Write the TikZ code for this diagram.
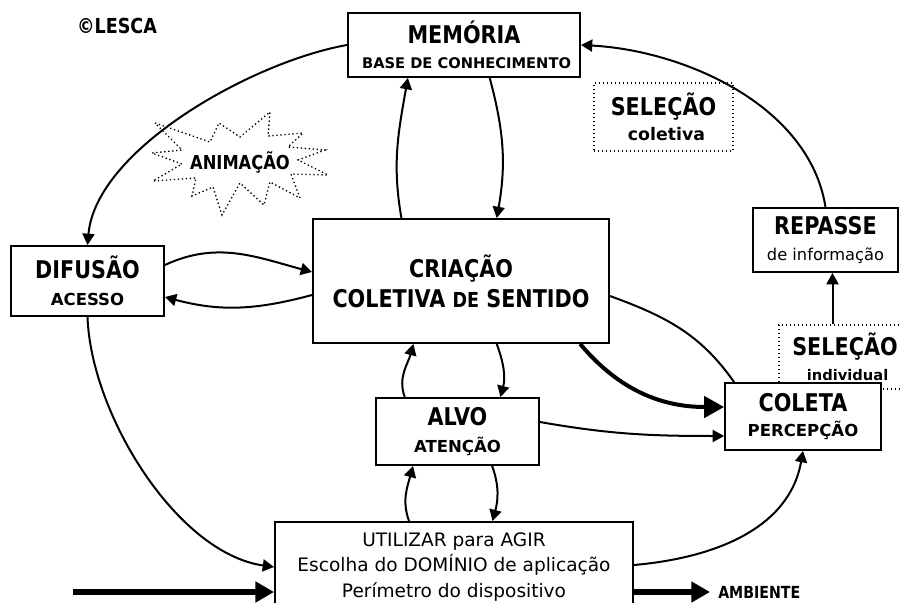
\documentclass[tikz,border=0pt]{standalone}
\usepackage{fontspec}
\setmainfont{DejaVu Sans}
\newfontfamily\estreita[FakeStretch=0.85]{DejaVu Sans}
\usetikzlibrary{arrows.meta,calc,positioning}

\newcommand{\px}{*0.75pt}
\newcommand{\titulo}{\estreita\bfseries\fontsize{18.3}{20}\selectfont}
\newcommand{\subtit}[1][12.4]{\normalfont\bfseries\fontsize{#1}{20}\selectfont}
\newcommand{\texto}{\fontsize{13.9}{19}\selectfont}

\tikzset{
  caixa/.style={draw,line width=1.4pt,fill=white,align=center,inner sep=0pt,font=\titulo},
  selecao/.style={draw,dotted,line width=1pt,fill=white,align=center,inner sep=0pt,font=\titulo},
  fluxo/.style={line width=1.5pt,-{Triangle[length=8.5pt,width=9pt]}},
  fluxogrosso/.style={line width=4.5pt,-{Triangle[length=14pt,width=15pt]}},
}

\begin{document}
\begin{tikzpicture}[x=0.75pt,y=-0.75pt]
    \useasboundingbox (0,0) rectangle (901,603);

    % caixas
    \node[caixa,minimum width=232\px,minimum height=64\px] (mem) at (464,45)
        {MEMÓRIA\\[-1pt]{\subtit[11] BASE DE CONHECIMENTO}};
    \node[selecao,minimum width=139\px,minimum height=68\px] (selcol) at (663.5,117)
        {SELEÇÃO\\[-1pt]{\subtit[13] coletiva}};
    \node[caixa,minimum width=145\px,minimum height=64\px] (rep) at (825.5,240)
        {REPASSE\\{\normalfont\fontsize{12.2}{20}\selectfont de informação}};
    \node[caixa,minimum width=153\px,minimum height=70\px] (dif) at (87.5,281)
        {DIFUSÃO\\{\subtit ACESSO}};
    \node[caixa,minimum width=296\px,minimum height=124\px] (cri) at (461,281)
        {CRIAÇÃO\\[2.5pt]COLETIVA {\fontsize{15.5}{20}\selectfont DE} SENTIDO};
    \node[caixa,minimum width=163\px,minimum height=67\px] (alvo) at (457.5,431.5)
        {ALVO\\{\subtit ATENÇÃO}};
    \node[selecao,minimum width=132\px,minimum height=64\px] (selind) at (845,357)
        {SELEÇÃO\\[-1pt]{\subtit[11] individual}};
    \node[caixa,minimum width=156\px,minimum height=67\px] (col) at (803,416.5)
        {COLETA\\[-1pt]{\subtit PERCEPÇÃO}};
    \node[caixa,minimum width=358\px,minimum height=90\px,font=\texto] (util) at (454,567)
        {UTILIZAR para AGIR\\Escolha do DOMÍNIO de aplicação\\Perímetro do dispositivo};
    \node[font=\estreita\bfseries\fontsize{15.5}{17}\selectfont] (lesca) at (117,26) {©LESCA};
    \node[anchor=west,inner sep=6pt,font=\estreita\bfseries\fontsize{12.5}{14}\selectfont] (amb) at (710,592) {AMBIENTE};

    % animacao (estrela pontilhada)
    \draw[dotted,line width=1pt] (155,123) -- (210,142) -- (219,123) -- (240,137) -- (270,112)
        -- (268,136) -- (303,133) -- (288,147) -- (325,150) -- (298,160) -- (328,175)
        -- (291,174) -- (300,198) -- (270,182) -- (264,205) -- (240,183) -- (222,215)
        -- (213,187) -- (192,196) -- (196,178) -- (153,181) -- (182,164) -- (152,153)
        -- (182,150) -- cycle;
    \node[font=\estreita\bfseries\fontsize{14.4}{16}\selectfont] (anim) at (240,162) {ANIMAÇÃO};

    % ciclo externo
    \draw[fluxo] (mem.west) to[out=190,in=85,looseness=0.75] (dif.north);
    \draw[fluxo] (rep.north) to[out=99,in=-3,looseness=0.9] (mem.east);
    \coordinate (repin) at ($(rep.south)+(7,0)$);
    \draw[fluxo] (repin |- selind.north) -- (repin);

    % memoria <-> criacao
    \draw[fluxo] ($(cri.north west)!0.3!(cri.north east)$) to[out=100,in=-100]
        ($(mem.south west)!0.26!(mem.south east)$);
    \draw[fluxo] ($(mem.south west)!0.61!(mem.south east)$) to[out=-75,in=80]
        ($(cri.north west)!0.62!(cri.north east)$);

    % difusao <-> criacao
    \draw[fluxo] ($(dif.east)+(0,-16)$) to[out=25,in=165] ($(cri.west)+(0,-9)$);
    \draw[fluxo] ($(cri.west)+(0,14)$) to[out=195,in=-15] ($(dif.east)+(0,16)$);
    \draw[fluxo] (dif.south) to[out=-88,in=172,looseness=0.8] (util.west);

    % criacao <-> alvo <-> utilizar
    \draw[fluxo] ($(alvo.north west)!0.18!(alvo.north east)$) to[out=110,in=-105]
        ($(cri.south west)!0.34!(cri.south east)$);
    \draw[fluxo] ($(cri.south west)!0.62!(cri.south east)$) to[out=-70,in=75]
        ($(alvo.north west)!0.76!(alvo.north east)$);
    \draw[fluxo] ($(util.north west)!0.375!(util.north east)$) to[out=110,in=-105]
        ($(alvo.south west)!0.23!(alvo.south east)$);
    \draw[fluxo] ($(alvo.south west)!0.71!(alvo.south east)$) to[out=-70,in=75]
        ($(util.north west)!0.607!(util.north east)$);

    % coleta
    \draw[line width=3pt,-{Triangle[length=15pt,width=16pt]}]
        ($(cri.south west)!0.9!(cri.south east)$) to[out=-50,in=180] ($(col.west)+(0,-9.5)$);
    \draw[fluxo] ($(alvo.east)+(0,-9.5)$) to[out=-10,in=180] ($(col.west)+(0,19.5)$);
    \draw[line width=1.5pt] ($(cri.east)+(0,15)$) to[out=-20,in=125] ($(col.north west)+(10,0)$);
    \draw[fluxo] ($(util.east)+(0,-2)$) to[out=5,in=-100] (col.south);

    % ambiente
    \coordinate (entrada) at (73,592);
    \draw[fluxogrosso] (entrada) -- (entrada -| util.west);
    \draw[fluxogrosso] (util.east |- amb.west) -- (amb.west);
\end{tikzpicture}
\end{document}
